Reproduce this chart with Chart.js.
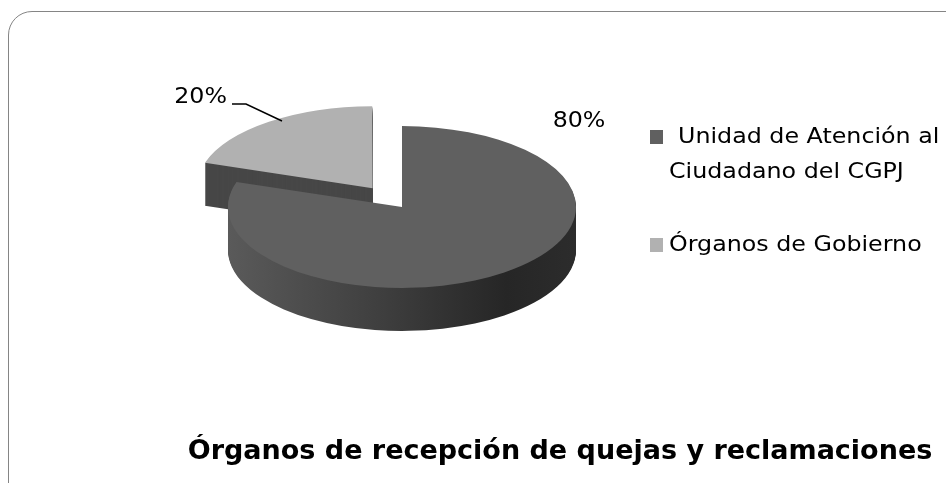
<!DOCTYPE html>
<html>
<head>
<meta charset="utf-8">
<script src="https://cdn.jsdelivr.net/npm/chart.js@4.4.1/dist/chart.umd.min.js"></script>
<style>
  html, body { margin: 0; padding: 0; background: #fff; overflow: hidden; }
  #wrap { position: relative; width: 946px; height: 483px; }
  #frame {
    position: absolute; left: 8px; top: 11px; width: 980px; height: 520px;
    border: 1.5px solid #858585; border-radius: 24px; box-sizing: border-box;
  }
  canvas { position: absolute; left: 0; top: 0; }
</style>
</head>
<body>
<div id="wrap">
  <div id="frame"></div>
  <canvas id="pieChart" width="946" height="483"></canvas>
</div>
<script>
const categories = [['Unidad de Atención al', 'Ciudadano del CGPJ'], 'Órganos de Gobierno'];
const shares = [80, 20];
const pctLabels = ['80%', '20%'];
const chartTitle = 'Órganos de recepción de quejas y reclamaciones';

const topColors = ['#606060', '#b1b1b1'];
const FONT = '"DejaVu Sans", Verdana, sans-serif';

// fake 3d: squash the pie vertically and stack darker copies underneath
const TILT = 0.465;
const DEPTH = 43;

function squash(ctx, cx, cy) {
    ctx.translate(cx, cy);
    ctx.scale(1, TILT);
    ctx.translate(-cx, -cy);
}

const pie3d = {
    id: 'pie3d',
    beforeDatasetsDraw(chart) {
        const ctx = chart.ctx;
        const arcs = chart.getDatasetMeta(0).data;
        const cx = arcs[0].x, cy = arcs[0].y, r = arcs[0].outerRadius;
        const grad = ctx.createLinearGradient(cx - r, 0, cx + r, 0);
        grad.addColorStop(0, '#5a5a5a');
        grad.addColorStop(0.45, '#3e3e3e');
        grad.addColorStop(0.8, '#262626');
        grad.addColorStop(1, '#2c2c2c');
        const sides = [grad, '#474747'];
        for (let d = DEPTH; d > 0; d--) {
            ctx.save();
            ctx.translate(0, d);
            squash(ctx, cx, cy);
            arcs.forEach((arc, i) => {
                const copy = Object.create(arc);
                copy.options = Object.assign({}, arc.options, { backgroundColor: sides[i], borderWidth: 0 });
                arc.draw.call(copy, ctx);
            });
            ctx.restore();
        }
        ctx.save();
        squash(ctx, cx, cy);
    },
    afterDatasetsDraw(chart) {
        chart.ctx.restore();
    }
};

// the source picture is a bit wide, so text gets stretched sideways
function wideText(ctx, txt, x, y, stretch) {
    ctx.save();
    ctx.translate(x, y);
    ctx.scale(stretch, 1);
    ctx.fillText(txt, 0, 0);
    ctx.restore();
}

// percentages, legend and title drawn on the canvas
const annotate = {
    id: 'annotate',
    afterDraw(chart, args, opts) {
        const ctx = chart.ctx;
        const arcs = chart.getDatasetMeta(0).data;
        const cx = arcs[0].x, cy = arcs[0].y;
        ctx.save();
        ctx.fillStyle = '#000';
        ctx.textBaseline = 'middle';
        ctx.font = '21px ' + FONT;

        // 80%
        ctx.textAlign = 'center';
        wideText(ctx, pctLabels[0], cx + opts.mainLabel[0], cy + opts.mainLabel[1], 1.13);
        // 20% with leader line
        ctx.textAlign = 'right';
        wideText(ctx, pctLabels[1], cx + opts.smallLabel[0], cy + opts.smallLabel[1], 1.13);
        ctx.strokeStyle = '#000';
        ctx.lineWidth = 1.5;
        ctx.beginPath();
        opts.leader.forEach((p, i) => {
            const x = cx + p[0], y = cy + p[1];
            if (i === 0) ctx.moveTo(x, y); else ctx.lineTo(x, y);
        });
        ctx.stroke();

        // legend
        ctx.textAlign = 'left';
        ctx.font = '22px ' + FONT;
        let y = opts.legendTop;
        categories.forEach((cat, i) => {
            const lines = Array.isArray(cat) ? cat : [cat];
            ctx.fillStyle = topColors[i];
            ctx.fillRect(opts.legendX, y - 7, 13, 14);
            ctx.fillStyle = '#000';
            lines.forEach((ln, j) => {
                const x = j === 0 && lines.length > 1 ? opts.legendX + 28 : opts.legendX + 19;
                wideText(ctx, ln, x, y + j * opts.lineGap, 1.08);
            });
            y += opts.entryGap;
        });

        // title
        ctx.font = 'bold 27px ' + FONT;
        ctx.textAlign = 'center';
        ctx.fillText(chartTitle, opts.titleX, opts.titleY);
        ctx.restore();
    }
};

new Chart(document.getElementById('pieChart'), {
    type: 'pie',
    data: {
        labels: categories,
        datasets: [{
            data: shares,
            backgroundColor: topColors,
            borderWidth: 0,
            offset: [0, 200]
        }]
    },
    options: {
        responsive: false,
        animation: false,
        radius: 174,
        layout: { padding: { left: 0, right: 142, top: 0, bottom: 69 } },
        plugins: {
            legend: { display: false },
            tooltip: { enabled: false },
            title: { display: false },
            annotate: {
                mainLabel: [177, -85],
                smallLabel: [-175, -109],
                leader: [[-170, -103], [-156, -103], [-120, -86]],
                legendX: 650,
                legendTop: 137,
                lineGap: 35,
                entryGap: 108,
                titleX: 560,
                titleY: 452
            }
        }
    },
    plugins: [pie3d, annotate]
});
</script>
</body>
</html>
